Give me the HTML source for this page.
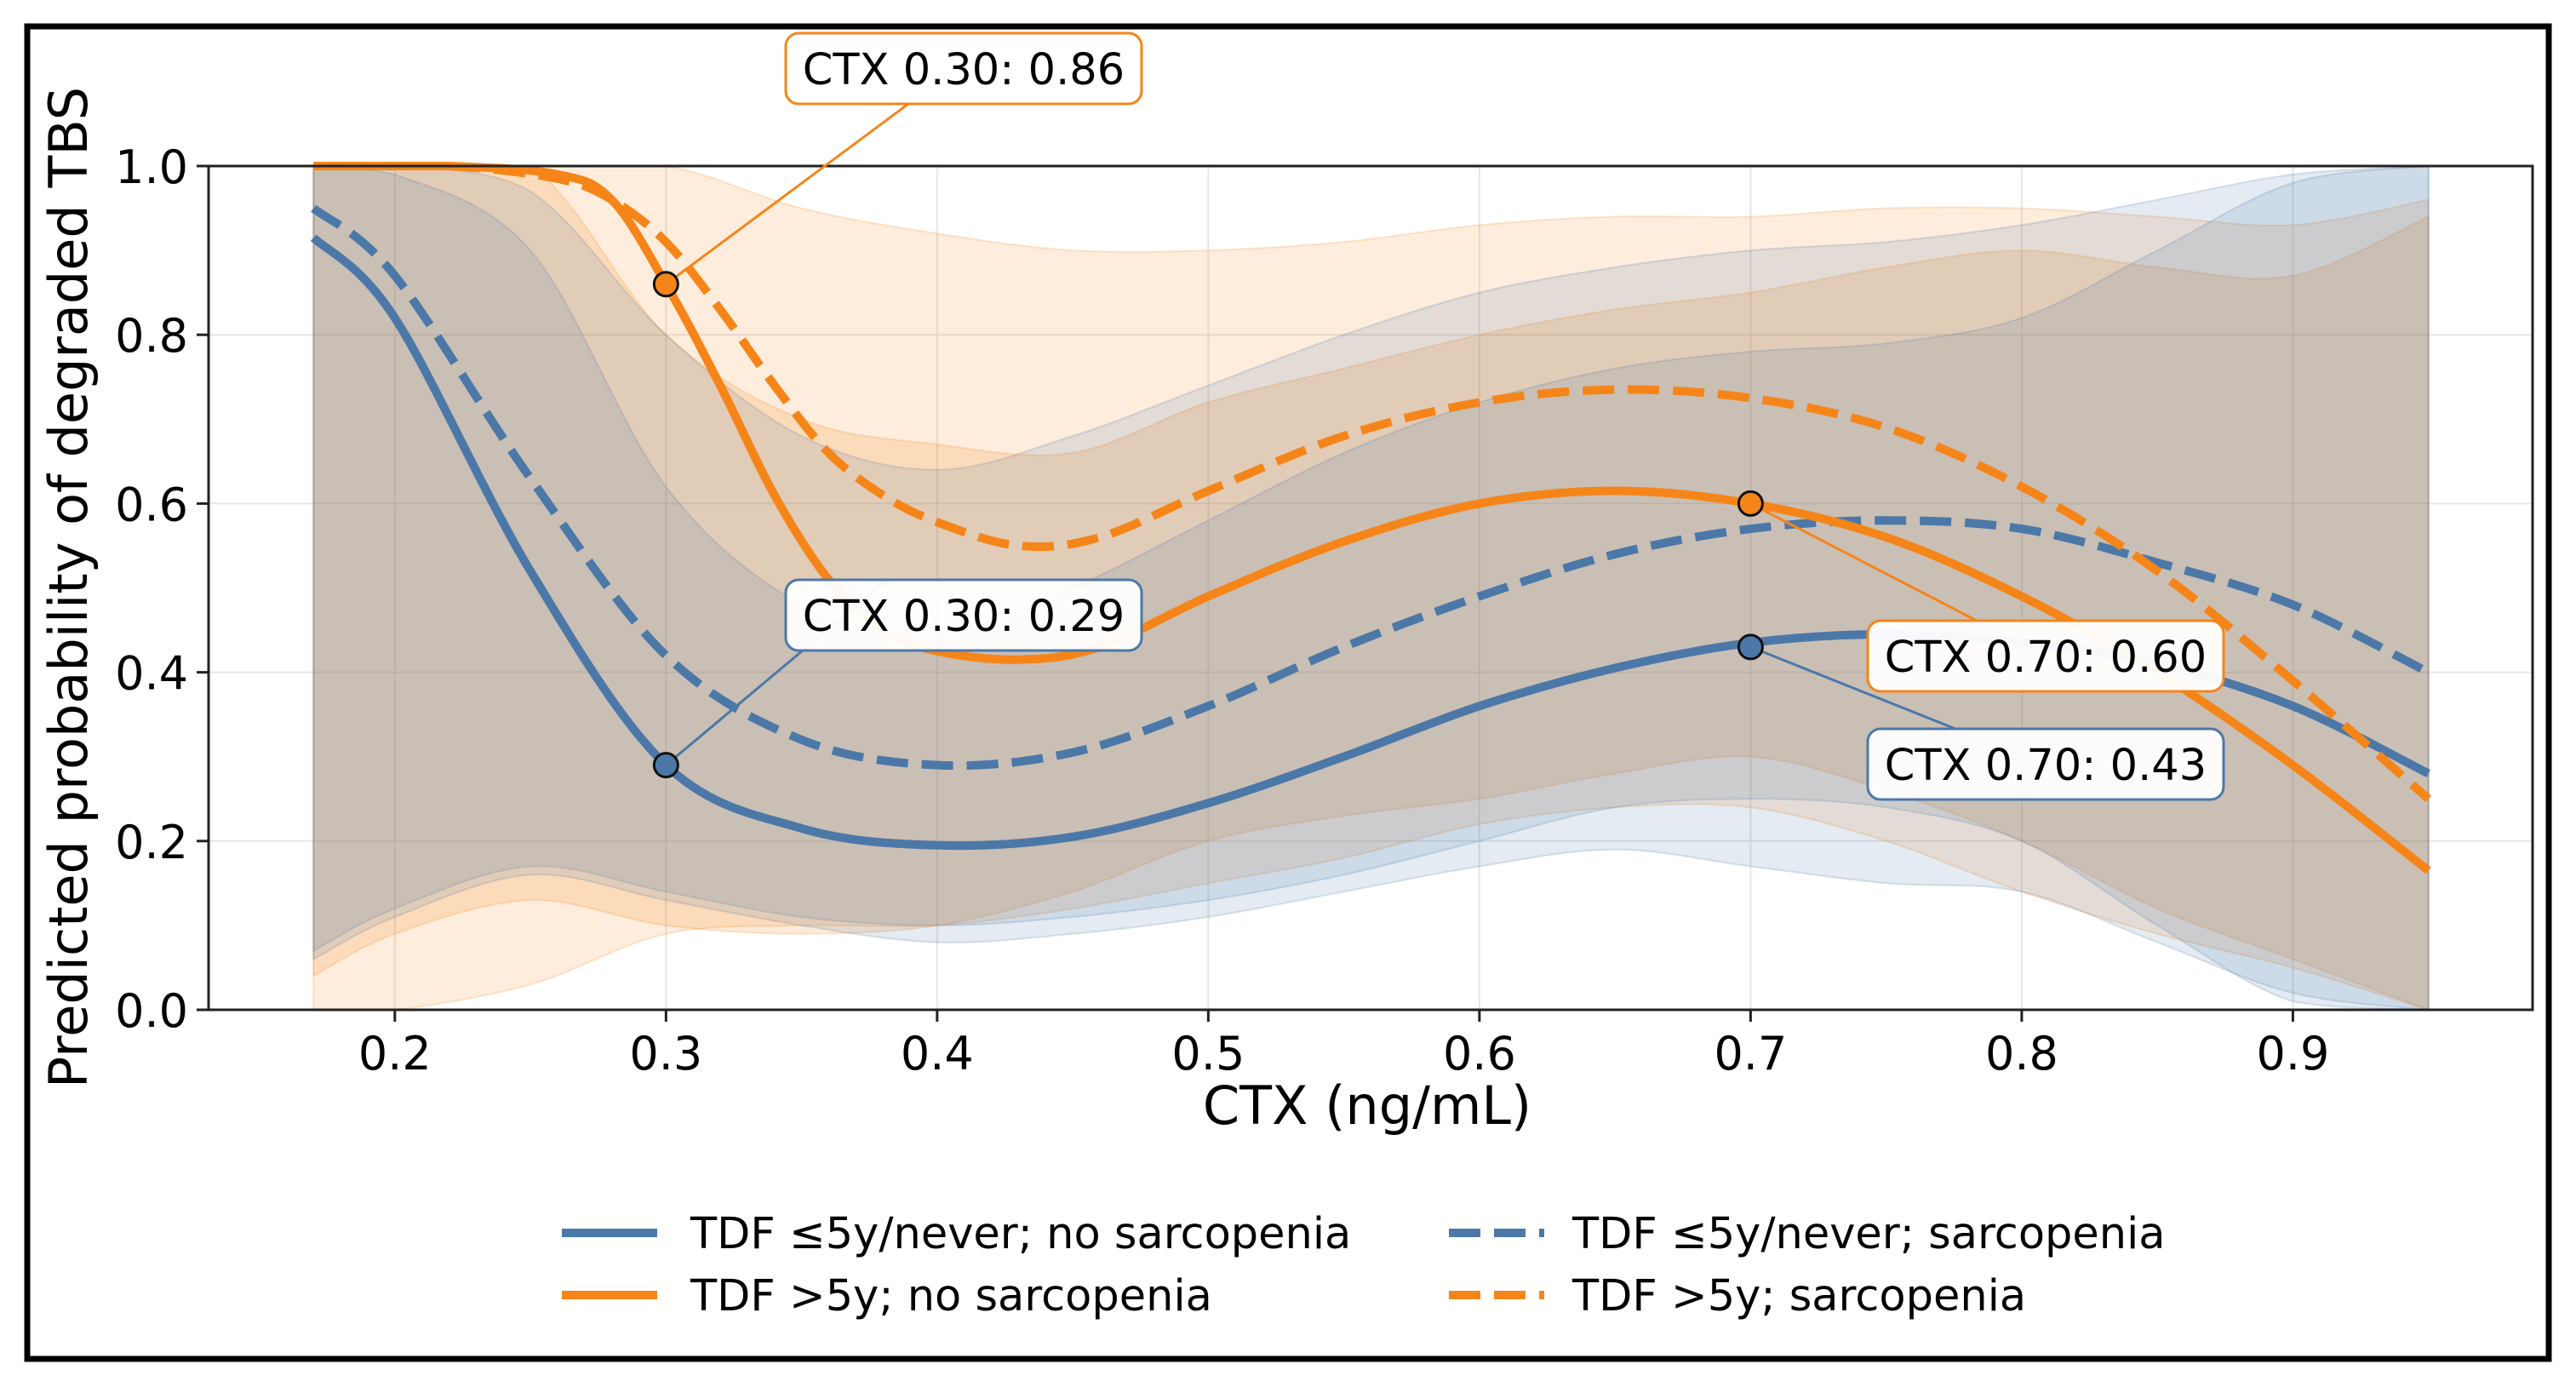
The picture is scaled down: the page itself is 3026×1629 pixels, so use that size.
<!DOCTYPE html>
<html><head><meta charset="utf-8"><style>
html,body{margin:0;padding:0;background:#fff}
svg text{font-family:"DejaVu Sans","Liberation Sans",sans-serif}
</style></head><body>
<svg id="chart" xmlns="http://www.w3.org/2000/svg" width="3026" height="1624" viewBox="0 0 3026 1624">
<rect x="0" y="0" width="3026" height="1624" fill="#fff"/>
<rect x="32" y="31" width="2962" height="1565" fill="none" stroke="#000" stroke-width="7"/>
<g id="grid"></g>
<g id="bands"></g>
<g id="lines"></g>
<g id="axes"></g>
<g id="annots"></g>
<text x="1606" y="1320" font-size="62" text-anchor="middle">CTX (ng/mL)</text>
<text transform="translate(102,690) rotate(-90)" font-size="62" text-anchor="middle">Predicted probability of degraded TBS</text>
<g font-size="51">
  <g><line x1="660" y1="1448" x2="772" y2="1448" stroke="#4c78a8" stroke-width="10"/><text x="811" y="1466">TDF ≤5y/never; no sarcopenia</text></g>
  <g><line x1="660" y1="1521" x2="772" y2="1521" stroke="#f58518" stroke-width="10"/><text x="811" y="1539">TDF &gt;5y; no sarcopenia</text></g>
  <g><line x1="1702" y1="1448" x2="1814" y2="1448" stroke="#4c78a8" stroke-width="10" stroke-dasharray="37,16"/><text x="1847" y="1466">TDF ≤5y/never; sarcopenia</text></g>
  <g><line x1="1702" y1="1521" x2="1814" y2="1521" stroke="#f58518" stroke-width="10" stroke-dasharray="37,16"/><text x="1847" y="1539">TDF &gt;5y; sarcopenia</text></g>
</g>
</svg>
<script>
const xGrid = [0.17,0.2,0.25,0.3,0.35,0.4,0.45,0.5,0.55,0.6,0.65,0.7,0.75,0.8,0.85,0.9,0.95];
const blueSolid  = [0.915,0.82,0.52,0.29,0.215,0.195,0.205,0.245,0.30,0.36,0.405,0.435,0.445,0.435,0.41,0.36,0.28];
const blueDashed = [0.95,0.87,0.63,0.42,0.32,0.29,0.305,0.36,0.43,0.49,0.54,0.57,0.58,0.57,0.53,0.48,0.40];
const xOrange = [0.17,0.22,0.26,0.28,0.3,0.32,0.34,0.36,0.38,0.4,0.43,0.46,0.5,0.55,0.6,0.65,0.7,0.75,0.8,0.85,0.9,0.95];
const orangeSolid  = [1.0,1.0,0.99,0.96,0.86,0.74,0.61,0.51,0.45,0.425,0.415,0.43,0.49,0.555,0.60,0.615,0.60,0.56,0.49,0.40,0.29,0.165];
const orangeDashed = [1.0,1.0,0.985,0.96,0.91,0.83,0.74,0.66,0.61,0.578,0.55,0.56,0.615,0.68,0.72,0.735,0.725,0.69,0.62,0.52,0.39,0.25];
// bands on xGrid
const blueSolidLo  = [0.06,0.11,0.16,0.13,0.10,0.08,0.09,0.11,0.14,0.17,0.19,0.17,0.15,0.14,0.08,0.02,0.0];
const blueSolidHi  = [1.0,0.99,0.90,0.62,0.48,0.44,0.50,0.58,0.66,0.72,0.76,0.78,0.79,0.82,0.90,0.98,1.0];
const blueDashedLo = [0.07,0.12,0.17,0.14,0.11,0.10,0.11,0.13,0.16,0.20,0.24,0.25,0.24,0.20,0.10,0.01,0.0];
const blueDashedHi = [1.0,1.0,0.97,0.80,0.68,0.64,0.68,0.74,0.80,0.85,0.88,0.90,0.91,0.93,0.96,0.99,1.0];
const orangeSolidLo  = [0.04,0.09,0.13,0.10,0.09,0.10,0.14,0.20,0.23,0.25,0.28,0.30,0.26,0.20,0.12,0.06,0.0];
const orangeSolidHi  = [1.0,1.0,1.0,0.80,0.70,0.67,0.66,0.72,0.76,0.80,0.83,0.85,0.88,0.90,0.88,0.87,0.94];
const orangeDashedLo = [0.0,0.0,0.03,0.09,0.10,0.10,0.12,0.15,0.18,0.22,0.24,0.24,0.20,0.14,0.09,0.05,0.0];
const orangeDashedHi = [1.0,1.0,1.0,1.0,0.95,0.92,0.90,0.90,0.91,0.93,0.94,0.94,0.95,0.95,0.94,0.93,0.96];
const xTicks = [0.2,0.3,0.4,0.5,0.6,0.7,0.8,0.9];
const xTickLabels = ["0.2","0.3","0.4","0.5","0.6","0.7","0.8","0.9"];
const yTicks = [0,0.2,0.4,0.6,0.8,1.0];
const yTickLabels = ["0.0","0.2","0.4","0.6","0.8","1.0"];
const annotX = [0.3,0.3,0.7,0.7];
const annotY = [0.86,0.29,0.60,0.43];
const annotLabels = ["CTX 0.30: 0.86","CTX 0.30: 0.29","CTX 0.70: 0.60","CTX 0.70: 0.43"];

const L=245,R=2975,T=195,B=1186, XMIN=0.1313, XMAX=0.9884;
const sx = v => L + (v-XMIN)/(XMAX-XMIN)*(R-L);
const sy = v => B - v*(B-T);
const NS='http://www.w3.org/2000/svg';
function mk(tag, attrs, parent){const e=document.createElementNS(NS,tag);for(const k in attrs)e.setAttribute(k,attrs[k]);parent.appendChild(e);return e;}
const cl = y => Math.max(T, Math.min(B, y));
function smooth(pts){
  let d='M'+pts[0][0].toFixed(1)+','+pts[0][1].toFixed(1);
  for(let i=0;i<pts.length-1;i++){
    const p0=pts[Math.max(0,i-1)],p1=pts[i],p2=pts[i+1],p3=pts[Math.min(pts.length-1,i+2)];
    const c1=[p1[0]+(p2[0]-p0[0])/6,cl(p1[1]+(p2[1]-p0[1])/6)];
    const c2=[p2[0]-(p3[0]-p1[0])/6,cl(p2[1]-(p3[1]-p1[1])/6)];
    d+=' C'+c1.map(v=>v.toFixed(1)).join(',')+' '+c2.map(v=>v.toFixed(1)).join(',')+' '+p2[0].toFixed(1)+','+p2[1].toFixed(1);
  }
  return d;
}
const pts=(xs,ys)=>xs.map((x,i)=>[sx(x),sy(ys[i])]);

const grid=document.getElementById('grid');
xTicks.forEach(t=>{const l=mk('line',{x1:sx(t),x2:sx(t),y1:T,y2:B,stroke:'#e6e6e6','stroke-width':2},grid);

});
yTicks.forEach(t=>{const l=mk('line',{x1:L,x2:R,y1:sy(t),y2:sy(t),stroke:'#e6e6e6','stroke-width':2},grid);

});

const bands=document.getElementById('bands');
function band(lo,hi,color,op,name){
  const up=pts(xGrid,hi), dn=pts(xGrid,lo).reverse();
  let d=smooth(up)+' L'+dn[0][0]+','+dn[0][1]+smooth(dn).replace(/^M[^C]*/,' ')+' Z';
  const p=mk('path',{d:d,fill:color,'fill-opacity':op,stroke:color,'stroke-opacity':0.2,'stroke-width':2},bands);
  
  
}
band(orangeDashedLo,orangeDashedHi,'#f58518',0.15,'band-orange-dashed');
band(orangeSolidLo,orangeSolidHi,'#f58518',0.17,'band-orange-solid');
band(blueDashedLo,blueDashedHi,'#4c78a8',0.15,'band-blue-dashed');
band(blueSolidLo,blueSolidHi,'#4c78a8',0.15,'band-blue-solid');

const lines=document.getElementById('lines');
function line(xs,ys,color,dash,name){
  const a={d:smooth(pts(xs,ys)),fill:'none',stroke:color,'stroke-width':10,'stroke-linecap':'butt'};
  if(dash)a['stroke-dasharray']='37,16';
  const p=mk('path',a,lines);
  
  
}
line(xGrid,blueSolid,'#4c78a8',false,'line-blue-solid');
line(xGrid,blueDashed,'#4c78a8',true,'line-blue-dashed');
line(xOrange,orangeSolid,'#f58518',false,'line-orange-solid');
line(xOrange,orangeDashed,'#f58518',true,'line-orange-dashed');

const axes=document.getElementById('axes');
const frame=mk('rect',{x:L,y:T,width:R-L,height:B-T,fill:'none',stroke:'#222','stroke-width':3},axes);


xTicks.forEach((t,i)=>{
  mk('line',{x1:sx(t),x2:sx(t),y1:B,y2:B+14,stroke:'#222','stroke-width':3},axes);
  const tx=mk('text',{x:sx(t),y:B+70,'font-size':54,'text-anchor':'middle'},axes);
  tx.textContent=xTickLabels[i];
  
  
});
yTicks.forEach((t,i)=>{
  mk('line',{x1:L-14,x2:L,y1:sy(t),y2:sy(t),stroke:'#222','stroke-width':3},axes);
  const tx=mk('text',{x:L-24,y:sy(t)+20,'font-size':54,'text-anchor':'end'},axes);
  tx.textContent=yTickLabels[i];
  
  
});

const ann=document.getElementById('annots');
const boxes=[[923,39],[923,681],[2194,729],[2194,856]];
const anchors=[[1067,122],[1042,681],[2322,729],[2297,856]];
const colors=['#f58518','#4c78a8','#f58518','#4c78a8'];
annotLabels.forEach((lab,i)=>{
  const g=mk('g',{},ann);
  
  
  mk('line',{x1:sx(annotX[i]),y1:sy(annotY[i]),x2:anchors[i][0],y2:anchors[i][1],stroke:colors[i],'stroke-width':3},g);
  mk('rect',{x:boxes[i][0],y:boxes[i][1],width:418,height:83,rx:15,fill:'#fff','fill-opacity':0.95,stroke:colors[i],'stroke-width':3},g);
  const t=mk('text',{x:boxes[i][0]+209,y:boxes[i][1]+60,'font-size':51,'text-anchor':'middle'},g);
  t.textContent=lab;
  const c=mk('circle',{cx:sx(annotX[i]),cy:sy(annotY[i]),r:14,fill:colors[i],stroke:'#111','stroke-width':3},g);
  
  
});
</script>
</body></html>
